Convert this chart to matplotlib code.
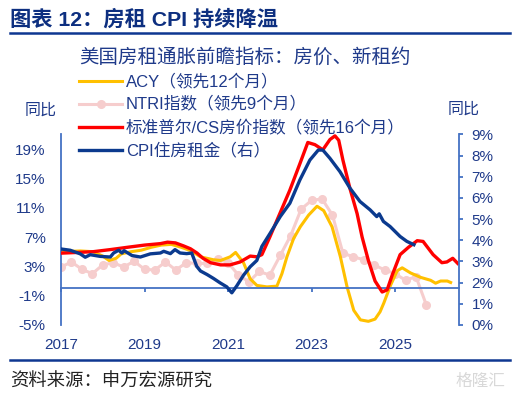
import matplotlib
matplotlib.use("Agg")
import matplotlib.pyplot as plt
from matplotlib.lines import Line2D

plt.rcParams['font.family'] = ['Liberation Sans', 'Noto Sans CJK SC', 'DejaVu Sans']

# ---------------- data (decimal years) ----------------
acy_x = [2017.0, 2017.46, 2017.77, 2018.0, 2018.15, 2018.32, 2018.44, 2018.68, 2018.92, 2019.16,
         2019.40, 2019.64, 2019.88, 2020.12, 2020.34, 2020.65, 2020.82, 2021.05, 2021.18, 2021.37,
         2021.53, 2021.69, 2021.93, 2022.17, 2022.29, 2022.41, 2022.57, 2022.73, 2022.93, 2023.13,
         2023.29, 2023.49, 2023.69, 2023.85, 2024.01, 2024.17, 2024.36, 2024.52, 2024.64, 2024.73,
         2024.89, 2025.05, 2025.17, 2025.37, 2025.61, 2025.85, 2025.97, 2026.09, 2026.25, 2026.33]
acy_y = [5.0, 5.1, 5.0, 4.4, 3.8, 4.1, 4.7, 5.0, 5.2, 5.6,
         5.9, 6.0, 5.6, 5.1, 4.3, 3.9, 3.8, 4.3, 4.9, 3.5,
         1.3, 0.4, 0.2, 0.3, 2.0, 4.3, 6.8, 8.4, 10.0, 11.2,
         10.6, 8.4, 4.3, 0.2, -3.0, -4.3, -4.5, -4.2, -3.2, -2.0,
         0.4, 2.4, 2.8, 2.1, 1.5, 1.1, 0.7, 1.0, 1.0, 0.8]

ntri_x = [2017 + k / 4 for k in range(36)]
ntri_y = [2.9, 3.6, 2.6, 2.0, 3.2, 3.5, 2.9, 3.7, 2.6, 2.5, 3.6, 2.5, 3.5, 3.4, 3.4, 4.0,
          3.5, 1.8, 0.9, 2.3, 1.8, 4.5, 7.2, 10.8, 12.0, 12.2, 10.0, 4.8, 4.3, 3.9, 3.2, 2.5,
          2.0, 1.1, 1.6, -2.3]

cs_x = [2017.0, 2017.4, 2017.77, 2018.2, 2018.59, 2019.0, 2019.38, 2019.55, 2019.74, 2019.93,
        2020.10, 2020.26, 2020.40, 2020.58, 2020.82, 2021.05, 2021.29, 2021.53, 2021.69, 2021.81,
        2022.0, 2022.24, 2022.48, 2022.72, 2022.91, 2023.08, 2023.27, 2023.44, 2023.56, 2023.65,
        2023.75, 2023.92, 2024.09, 2024.21, 2024.36, 2024.52, 2024.69, 2024.81, 2024.93, 2025.12,
        2025.32, 2025.53, 2025.67, 2025.91, 2026.12, 2026.24, 2026.38, 2026.50]
cs_y = [4.8, 4.9, 5.0, 5.3, 5.6, 5.9, 6.1, 6.3, 6.2, 5.8,
        5.4, 4.8, 4.1, 3.5, 3.2, 3.2, 3.6, 4.4, 4.3, 4.6,
        7.0, 10.2, 13.4, 17.0, 19.9, 19.6, 18.9, 20.3, 20.8, 20.2,
        17.5, 13.6, 10.2, 7.0, 3.8, 1.0, -0.5, -0.2, 1.8, 4.6,
        5.6, 6.5, 6.4, 4.6, 3.5, 3.6, 4.1, 3.4]

cpi_x = [2017.0, 2017.22, 2017.46, 2017.58, 2017.70, 2017.94, 2018.18, 2018.26, 2018.38, 2018.46,
         2018.51, 2018.70, 2018.90, 2019.14, 2019.38, 2019.46, 2019.62, 2019.73, 2019.85, 2020.01,
         2020.13, 2020.25, 2020.34, 2020.50, 2020.65, 2020.81, 2020.97, 2021.09, 2021.21, 2021.37,
         2021.53, 2021.69, 2021.81, 2022.01, 2022.25, 2022.48, 2022.72, 2022.96, 2023.16, 2023.27,
         2023.44, 2023.68, 2023.92, 2024.16, 2024.40, 2024.56, 2024.62, 2024.72, 2024.88, 2025.12,
         2025.28, 2025.45]
cpi_y = [3.59, 3.53, 3.36, 3.20, 3.32, 3.24, 3.21, 3.40, 3.53, 3.40,
         3.51, 3.28, 3.21, 3.36, 3.40, 3.48, 3.37, 3.56, 3.40, 3.37,
         3.40, 2.77, 2.55, 2.38, 2.20, 1.99, 1.80, 1.52, 1.85, 2.35,
         2.75, 3.05, 3.71, 4.34, 5.12, 5.75, 6.85, 7.79, 8.26, 8.26,
         7.87, 7.24, 6.46, 5.83, 5.44, 5.12, 5.25, 4.89, 4.65, 4.18,
         3.95, 3.79]

labels = ['ACY（领先12个月）', 'NTRI指数（领先9个月）', '标准普尔/CS房价指数（领先16个月）', 'CPI住房租金（右）']
legend_title = '美国房租通胀前瞻指标：房价、新租约'
left_ticks = [-5, -1, 3, 7, 11, 15, 19]
right_ticks = list(range(0, 10))
x_ticks = [2017, 2019, 2021, 2023, 2025]

# ---------------- styling ----------------
C_YEL = '#FFC000'
C_PINK = '#F6CDCD'
C_RED = '#FF0000'
C_BLUE = '#0B3A8E'
C_AX = '#4472C4'
C_TXT = '#1F3A8A'
C_HEAD = '#0D2F80'

fig = plt.figure(figsize=(5.32, 3.94), dpi=100)
ax = fig.add_axes([61 / 532, 1 - 325 / 394, (459 - 61) / 532, (325 - 134.4) / 394])
ax2 = ax.twinx()

l_p, = ax.plot(ntri_x, ntri_y, color=C_PINK, lw=2.2, marker='o', ms=5.5, mec=C_PINK, mfc=C_PINK, zorder=1)
l_y, = ax.plot(acy_x, acy_y, color=C_YEL, lw=2.2, zorder=2)
l_r, = ax.plot(cs_x, cs_y, color=C_RED, lw=2.4, zorder=3)
l_b, = ax2.plot(cpi_x, cpi_y, color=C_BLUE, lw=2.4)

ax.set_xlim(2017.0, 2026.53)
ax.set_ylim(-5, 21)
ax2.set_ylim(0, 9)

ax.set_yticks(left_ticks)
ax.set_yticklabels([f'{v}%' for v in left_ticks])
ax2.set_yticks(right_ticks)
ax2.set_yticklabels([f'{v}%' for v in right_ticks])
ax.set_xticks(x_ticks)
ax.set_xticklabels([str(v) for v in x_ticks])

for a in (ax, ax2):
    a.spines['top'].set_visible(False)
    for s in ('left', 'right', 'bottom'):
        a.spines[s].set_color(C_AX)
        a.spines[s].set_linewidth(1.3)
ax.spines['right'].set_visible(False)
ax2.spines['left'].set_visible(False)
ax2.spines['bottom'].set_visible(False)
ax.spines['bottom'].set_position(('data', 0))

ax.tick_params(axis='y', length=0, pad=11, labelsize=11, labelcolor=C_TXT)
ax.tick_params(axis='x', length=3, width=1.3, color=C_AX, pad=33, labelsize=11, labelcolor=C_TXT)
ax2.tick_params(axis='y', length=3, width=1.3, color=C_AX, pad=6, labelsize=11, labelcolor=C_TXT)

# legend
handles = [l_y, l_p, l_r, l_b]
leg = fig.legend(handles, labels, title=legend_title, loc='upper left',
                 bbox_to_anchor=(79 / 532, 1 - 48 / 394), frameon=False, alignment='left',
                 prop={'size': 12}, title_fontproperties={'size': 14},
                 handlelength=2.6, handletextpad=0.2, labelspacing=0.42, borderpad=0, borderaxespad=0)
for t in leg.get_texts():
    t.set_color(C_TXT)
leg.get_title().set_color(C_TXT)

# axis titles
fig.text(41 / 532, 1 - 110 / 394, '同比', ha='center', va='center', fontsize=11.5, color=C_TXT)
fig.text(464 / 532, 1 - 109 / 394, '同比', ha='center', va='center', fontsize=11.5, color=C_TXT)

# header / footer
fig.text(10 / 532, 1 - 19 / 394, '图表 12：房租 CPI 持续降温', ha='left', va='center',
         fontsize=15.3, fontweight='bold', color=C_HEAD)
fig.add_artist(Line2D([10 / 532, 510 / 532], [1 - 32.7 / 394] * 2, color='#0E3791', lw=1.8))
fig.add_artist(Line2D([10 / 532, 510 / 532], [1 - 360 / 394] * 2, color='#0E3791', lw=1.8))
fig.text(10 / 532, 1 - 381.7 / 394, '资料来源：申万宏源研究', ha='left', va='center',
         fontsize=13.2, color='#222222')
fig.text(505 / 532, 1 - 381 / 394, '格隆汇', ha='right', va='center', fontsize=12, color='#D8D8D8')

fig.savefig('out.png', dpi=100)
